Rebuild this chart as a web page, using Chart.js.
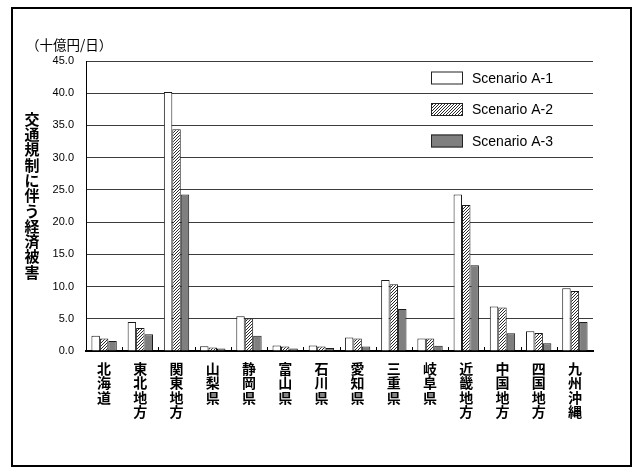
<!DOCTYPE html>
<html>
<head>
<meta charset="utf-8">
<script src="https://cdn.jsdelivr.net/npm/chart.js@4.4.1/dist/chart.umd.min.js"></script>
<style>
  html, body { margin: 0; padding: 0; background: #fff; }
  #wrap { position: relative; width: 636px; height: 470px; overflow: hidden; }
  #frame { position: absolute; left: 11px; top: 7px; width: 621px; height: 460px;
           border: 2px solid #000; box-sizing: border-box; }
  #c { position: absolute; left: 0; top: 0; }
</style>
</head>
<body>
<div id="wrap">
  <div id="frame"></div>
  <canvas id="c" width="636" height="470"></canvas>
</div>
<script>
// Regions along the x axis
const categories = ['北海道', '東北地方', '関東地方', '山梨県', '静岡県', '富山県', '石川県',
                    '愛知県', '三重県', '岐阜県', '近畿地方', '中国地方', '四国地方', '九州沖縄'];

// Economic damage per scenario (billion yen / day)
const scenarioA1 = [2.35, 4.5, 40.2, 0.75, 5.4, 0.85, 0.85, 2.1, 11.0, 1.95, 24.3, 6.9, 3.05, 9.75];
const scenarioA2 = [1.95, 3.55, 34.4, 0.55, 5.05, 0.7, 0.7, 1.95, 10.35, 1.95, 22.65, 6.75, 2.8, 9.3];
const scenarioA3 = [1.55, 2.6, 24.3, 0.4, 2.35, 0.4, 0.45, 0.7, 6.5, 0.8, 13.3, 2.75, 1.2, 4.5];

const seriesNames = ['Scenario A-1', 'Scenario A-2', 'Scenario A-3'];
const yTicks = [0, 5, 10, 15, 20, 25, 30, 35, 40, 45];

const unitLabel = '（十億円/日）';
const yTitle = '交通規制に伴う経済被害';

const CJK = '"Noto Sans CJK JP", "Noto Sans CJK SC", sans-serif';
const LATIN = '"Liberation Sans", Arial, sans-serif';

// Fine diagonal hatch fill for the second series
function makeHatch() {
  const t = document.createElement('canvas');
  t.width = 3; t.height = 3;
  const g = t.getContext('2d');
  g.fillStyle = '#ffffff';
  g.fillRect(0, 0, 3, 3);
  g.fillStyle = '#2a2a2a';
  g.fillRect(0, 2, 1, 1);
  g.fillRect(1, 1, 1, 1);
  g.fillRect(2, 0, 1, 1);
  return g.createPattern(t, 'repeat');
}

const ctx = document.getElementById('c').getContext('2d');
const hatch = makeHatch();

// Extra decorations: unit label, stacked vertical title, inner category ticks, legend
const decorations = {
  id: 'decorations',
  afterDatasetsDraw(chart) {
    const { ctx, chartArea: a, scales: { x } } = chart;
    ctx.save();

    // small inward tick marks between categories
    ctx.strokeStyle = '#000';
    ctx.lineWidth = 1;
    for (let i = 1; i < categories.length; i++) {
      const bx = Math.round((x.getPixelForValue(i - 1) + x.getPixelForValue(i)) / 2) + 0.5;
      ctx.beginPath();
      ctx.moveTo(bx, a.bottom);
      ctx.lineTo(bx, a.bottom - 4);
      ctx.stroke();
    }

    // legend in the upper right of the plot
    ctx.font = '14px ' + LATIN;
    ctx.textBaseline = 'middle';
    ctx.textAlign = 'left';
    chart.data.datasets.forEach((ds, i) => {
      const cy = a.top + 17 + i * 31.5;
      const bx = a.right - 162;
      ctx.fillStyle = ds.backgroundColor;
      ctx.fillRect(bx, cy - 6.5, 32, 13);
      ctx.strokeStyle = '#222';
      ctx.strokeRect(bx + 0.5, cy - 6, 31, 12);
      ctx.fillStyle = '#000';
      ctx.fillText(ds.label, bx + 41, cy + 1);
    });

    // unit label above the y axis
    ctx.font = '13.5px ' + CJK;
    ctx.fillStyle = '#000';
    ctx.textAlign = 'left';
    ctx.fillText(unitLabel, 26, 45);

    // vertical (upright) axis title
    ctx.font = 'bold 15px ' + CJK;
    ctx.textAlign = 'center';
    const chars = yTitle.split('');
    chars.forEach((ch, i) => {
      ctx.fillText(ch, 32, 119 + i * 15.3);
    });

    ctx.restore();
  }
};

new Chart(ctx, {
  type: 'bar',
  data: {
    labels: categories.map(s => s.split('')),
    datasets: [
      { label: seriesNames[0], data: scenarioA1, backgroundColor: '#ffffff', borderColor: '#1a1a1a', borderWidth: 1 },
      { label: seriesNames[1], data: scenarioA2, backgroundColor: hatch, borderColor: '#1a1a1a', borderWidth: 1 },
      { label: seriesNames[2], data: scenarioA3, backgroundColor: '#7f7f7f', borderColor: '#1a1a1a', borderWidth: 1 }
    ]
  },
  options: {
    responsive: false,
    animation: false,
    layout: { padding: { top: 61, right: 43, left: 0, bottom: 0 } },
    datasets: { bar: { categoryPercentage: 0.7, barPercentage: 1.0 } },
    plugins: { legend: { display: false }, tooltip: { enabled: false } },
    scales: {
      x: {
        grid: { display: true, drawOnChartArea: false, drawTicks: false },
        border: { display: true, color: '#000', width: 2 },
        ticks: {
          color: '#000',
          maxRotation: 0,
          minRotation: 0,
          autoSkip: false,
          padding: 10,
          font: { family: CJK, size: 14, weight: 'bold', lineHeight: '14.6px' }
        },
        afterFit(scale) { scale.height = 119; }
      },
      y: {
        min: 0,
        max: 45,
        afterBuildTicks(scale) { scale.ticks = yTicks.map(v => ({ value: v })); },
        grid: { color: '#3c3c3c', lineWidth: 1, drawTicks: false },
        border: { display: true, color: '#000', width: 1 },
        ticks: {
          color: '#000',
          padding: 12,
          font: { family: LATIN, size: 11 },
          callback: v => Number(v).toFixed(1)
        },
        afterFit(scale) { scale.width = 86; }
      }
    }
  },
  plugins: [decorations]
});
</script>
</body>
</html>
